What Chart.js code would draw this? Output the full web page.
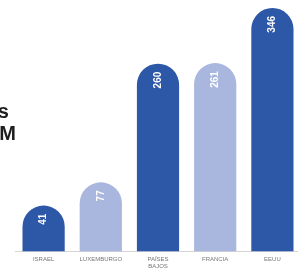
<!DOCTYPE html>
<html lang="es">
<head>
<meta charset="UTF-8" />
<title>Chart</title>
<script src="https://cdn.jsdelivr.net/npm/chart.js@4.4.1/dist/chart.umd.min.js"></script>
<style>
  html,body{margin:0;padding:0;background:#fff;overflow:hidden}
  #wrap{position:relative;width:298px;height:279px;overflow:hidden}
  .ttl{position:absolute;font-family:"Liberation Sans",Arial,sans-serif;font-weight:bold;font-size:20px;color:#1e1e1e;white-space:nowrap;text-align:right}
</style>
</head>
<body>
<div id="wrap">
  <canvas id="c" width="301" height="279"></canvas>
  <div class="ttl" style="left:-200px;width:209px;top:100px">Millones de dólares</div>
  <div class="ttl" style="left:-200px;width:216px;top:122px">USD M</div>
</div>
<script>
  const labels = ['ISRAEL','LUXEMBURGO',['PAÍSES','BAJOS'],'FRANCIA','EEUU'];
  const values = [41,77,260,261,346];
  const colors = ['#2d57a7','#a9b6de','#2d57a7','#a9b6de','#2d57a7'];

  const barText = {
    id:'barText',
    afterDatasetsDraw(chart){
      const ctx=chart.ctx;
      chart.getDatasetMeta(0).data.forEach((bar,i)=>{
        ctx.save();
        ctx.translate(bar.x, bar.y+8);
        ctx.rotate(-Math.PI/2);
        ctx.fillStyle='#fff';
        ctx.font='bold 10px "Liberation Sans", Arial, sans-serif';
        ctx.textAlign='right';
        ctx.textBaseline='middle';
        ctx.fillText(String(values[i]),0,0);
        ctx.restore();
      });
    }
  };

  new Chart(document.getElementById('c'),{
    type:'bar',
    data:{labels:labels,datasets:[{data:values,backgroundColor:colors,base:-30,
      borderRadius:{topLeft:21,topRight:21,bottomLeft:0,bottomRight:0},borderSkipped:'start',
      barPercentage:0.82,categoryPercentage:0.9}]},
    options:{
      responsive:false,animation:false,
      layout:{padding:{left:15,right:0,top:8,bottom:5}},
      plugins:{legend:{display:false},tooltip:{enabled:false}},
      scales:{
        x:{grid:{display:false,drawTicks:false},border:{display:true,color:'#d4d4d4',width:1},
          ticks:{color:'#777',font:{size:6,family:'"Liberation Sans", Arial, sans-serif'},padding:4,maxRotation:0,autoSkip:false}},
        y:{display:false,min:-30,max:346}
      }
    },
    plugins:[barText]
  });
</script>
</body>
</html>
